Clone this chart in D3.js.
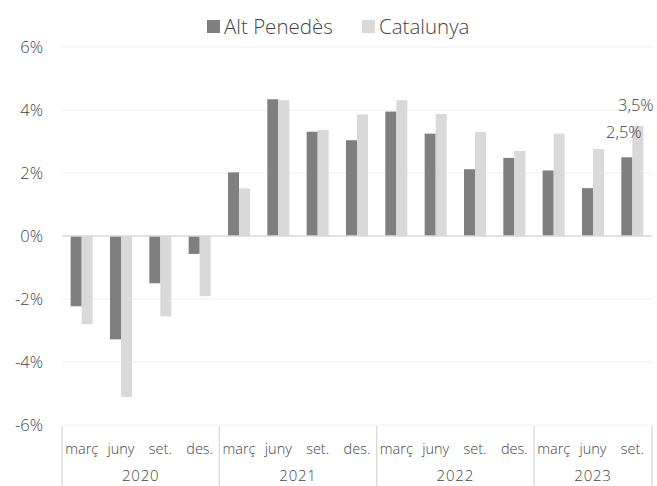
<!DOCTYPE html>
<html>
<head>
<meta charset="utf-8">
<script src="https://cdn.jsdelivr.net/npm/d3@7"></script>
<style>
  body { margin: 0; background: #fff; }
  svg { display: block; font-family: "Open Sans", Lato, sans-serif; font-weight: 300; }
</style>
</head>
<body>
<svg id="chart"></svg>
<script>
// data
const years = ['2020', '2021', '2022', '2023'];
const periods = [
  ['2020', 'març'], ['2020', 'juny'], ['2020', 'set.'], ['2020', 'des.'],
  ['2021', 'març'], ['2021', 'juny'], ['2021', 'set.'], ['2021', 'des.'],
  ['2022', 'març'], ['2022', 'juny'], ['2022', 'set.'], ['2022', 'des.'],
  ['2023', 'març'], ['2023', 'juny'], ['2023', 'set.']
];
const altPenedes = [-2.23, -3.28, -1.5, -0.57, 2.02, 4.34, 3.31, 3.04, 3.95, 3.25, 2.12, 2.48, 2.08, 1.52, 2.5];
const catalunya = [-2.8, -5.11, -2.55, -1.91, 1.51, 4.31, 3.37, 3.86, 4.31, 3.87, 3.3, 2.7, 3.25, 2.76, 3.5];
const seriesNames = ['Alt Penedès', 'Catalunya'];
const yTicks = [-6, -4, -2, 0, 2, 4, 6];

const width = 657, height = 486;
const margin = {top: 47, right: 5, bottom: 61, left: 62};
const colors = ['#7f7f7f', '#d9d9d9'];
const textColor = '#454545';

const svg = d3.select('#chart').attr('width', width).attr('height', height);

const keys = periods.map((p, i) => i);
const x = d3.scaleBand().domain(keys).range([margin.left, width - margin.right]).padding(0);
const bw = x.bandwidth() * 0.28;
const y = d3.scaleLinear().domain([-6, 6]).range([height - margin.bottom, margin.top]);

// gridlines
svg.append('g')
  .selectAll('line')
  .data(yTicks.filter(d => d !== 0))
  .join('line')
  .attr('x1', margin.left).attr('x2', width - margin.right)
  .attr('y1', d => y(d)).attr('y2', d => y(d))
  .attr('stroke', '#f0f0f0').attr('stroke-width', 1);

// y labels
svg.append('g')
  .selectAll('text')
  .data(yTicks)
  .join('text')
  .attr('x', 43).attr('y', d => y(d))
  .attr('dy', '0.35em')
  .attr('text-anchor', 'end')
  .attr('fill', textColor)
  .style('font-size', '16.5px')
  .text(d => d + '%');

// bars
const series = [altPenedes, catalunya];
series.forEach((vals, s) => {
  svg.append('g')
    .selectAll('rect')
    .data(vals)
    .join('rect')
    .attr('x', (d, i) => x(i) + x.bandwidth() / 2 - bw + s * bw)
    .attr('width', bw)
    .attr('y', d => y(Math.max(0, d)))
    .attr('height', d => Math.abs(y(d) - y(0)))
    .attr('fill', colors[s]);
});

// zero line
svg.append('line')
  .attr('x1', margin.left).attr('x2', width - margin.right)
  .attr('y1', y(0)).attr('y2', y(0))
  .attr('stroke', '#d9d9d9').attr('stroke-width', 1.5);

// category axis (two levels)
const axisTop = height - margin.bottom;
const ax = svg.append('g');
ax.selectAll('text.m')
  .data(periods)
  .join('text')
  .attr('class', 'm')
  .attr('x', (d, i) => x(i) + x.bandwidth() / 2)
  .attr('y', axisTop + 29)
  .attr('text-anchor', 'middle')
  .attr('fill', textColor)
  .style('font-size', '14.5px')
  .text(d => d[1]);

const groupStart = years.map(yr => periods.findIndex(p => p[0] === yr));
const groupEnd = years.map(yr => periods.length - 1 - periods.slice().reverse().findIndex(p => p[0] === yr));
const dividers = groupStart.map(i => x(i)).concat([x(periods.length - 1) + x.bandwidth()]);
ax.selectAll('line')
  .data(dividers)
  .join('line')
  .attr('x1', d => d).attr('x2', d => d)
  .attr('y1', axisTop + 1).attr('y2', height)
  .attr('stroke', '#d9d9d9').attr('stroke-width', 1.3);

ax.selectAll('text.y')
  .data(years)
  .join('text')
  .attr('class', 'y')
  .attr('x', (d, i) => (x(groupStart[i]) + x(groupEnd[i]) + x.bandwidth()) / 2)
  .attr('y', height - 5)
  .attr('text-anchor', 'middle')
  .attr('fill', textColor)
  .style('font-size', '15px')
  .style('letter-spacing', '0.8px')
  .text(d => d);

// data labels on last period
const last = periods.length - 1;
const fmt = v => d3.format('.1f')(v).replace('.', ',') + '%';
[[0, -3, -19], [1, -2, -15]].forEach(([s, dx, dy]) => {
  const v = series[s][last];
  svg.append('text')
    .attr('x', x(last) + x.bandwidth() / 2 - bw + s * bw + bw / 2 + dx)
    .attr('y', y(v) + dy)
    .attr('text-anchor', 'middle')
    .attr('fill', textColor)
    .style('font-size', '16.5px')
    .text(fmt(v));
});

// legend
const legend = svg.append('g').attr('transform', 'translate(207,20)');
const items = [{name: seriesNames[0], x: 0}, {name: seriesNames[1], x: 155}];
items.forEach((it, i) => {
  legend.append('rect').attr('x', it.x).attr('y', 0).attr('width', 13).attr('height', 13).attr('fill', colors[i]);
  legend.append('text').attr('x', it.x + 17).attr('y', 13.5)
    .attr('fill', textColor).style('font-size', '20.5px').text(it.name);
});
</script>
</body>
</html>
